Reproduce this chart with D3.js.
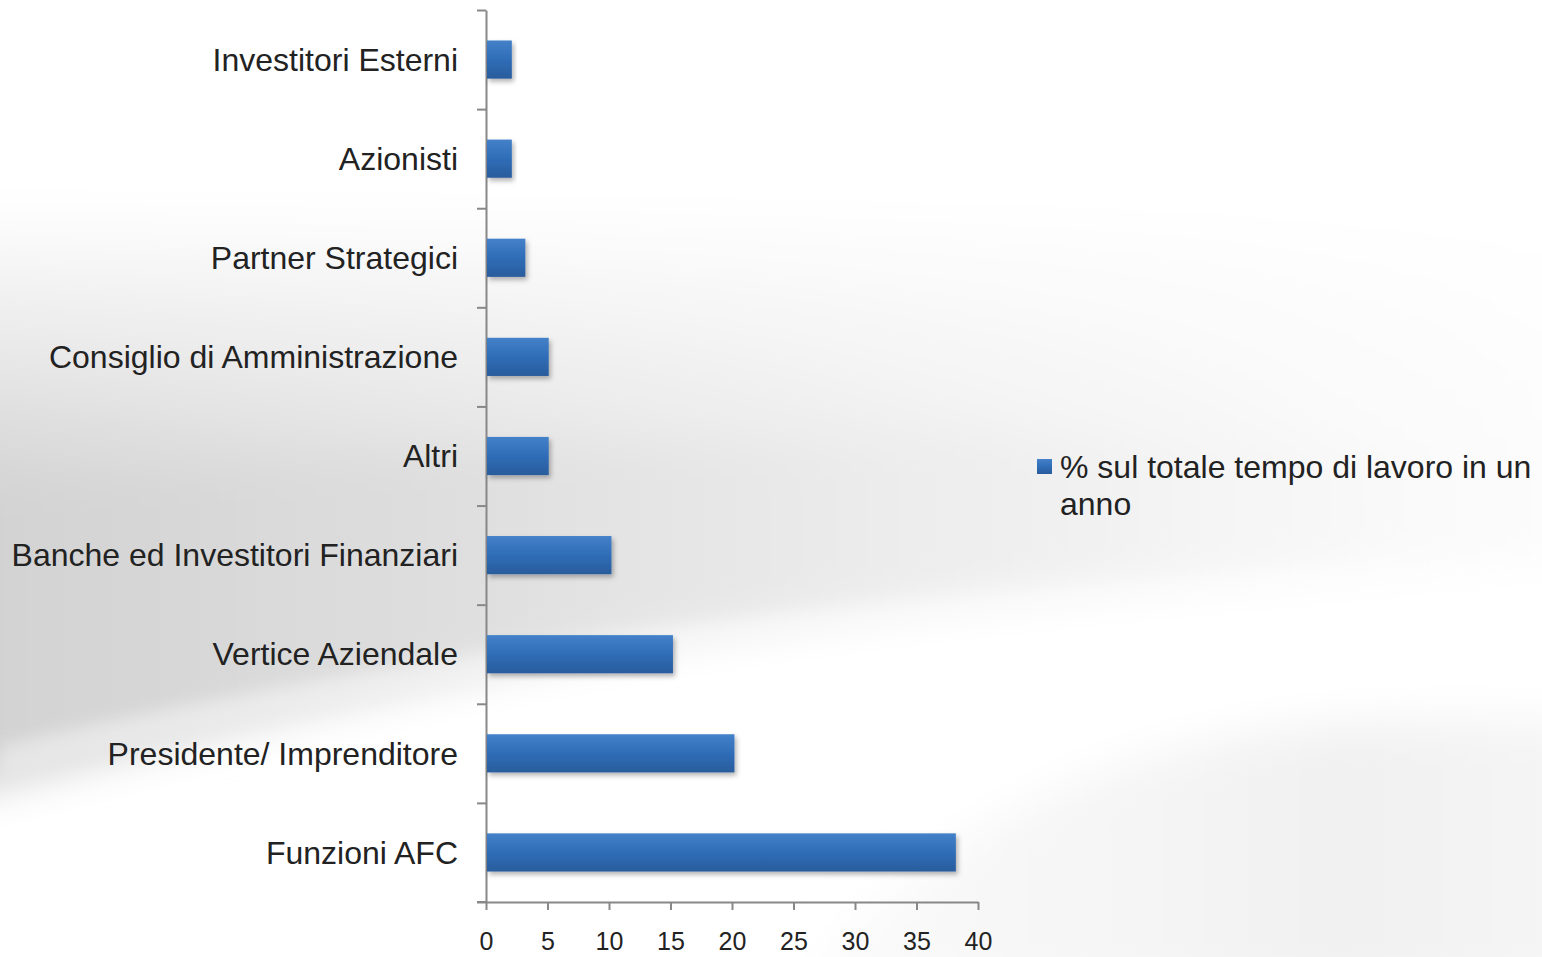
<!DOCTYPE html>
<html>
<head>
<meta charset="utf-8">
<script src="https://cdn.jsdelivr.net/npm/d3@7"></script>
<style>
  body { margin: 0; background: #fff; }
  svg { display: block; font-family: "Liberation Sans", Arial, sans-serif; }
</style>
</head>
<body>
<svg id="chart" width="1542" height="957"></svg>
<script>
// categories from bottom to top as they appear in the chart
var categories = ["Funzioni AFC", "Presidente/ Imprenditore", "Vertice Aziendale",
    "Banche ed Investitori Finanziari", "Altri", "Consiglio di Amministrazione",
    "Partner Strategici", "Azionisti", "Investitori Esterni"];
var values = [38.2, 20.2, 15.2, 10.2, 5.1, 5.1, 3.2, 2.1, 2.1];
var xTicks = [0, 5, 10, 15, 20, 25, 30, 35, 40];
var seriesName = "% sul totale tempo di lavoro in un anno";

var data = categories.map(function(c, i) { return {cat: c, value: values[i]}; });

var svg = d3.select('#chart');
var svgWidth = +svg.attr('width');
var svgHeight = +svg.attr('height');

var padding = {t: 10, l: 486};
var chartWidth = 492;
var chartHeight = 892;

var defs = svg.append('defs');

// background gradients
var bgGrad = defs.append('linearGradient').attr('id', 'bgGrad')
    .attr('x1', 0).attr('y1', 0).attr('x2', 1).attr('y2', 0);
bgGrad.append('stop').attr('offset', 0).attr('stop-color', '#d0d0d0');
bgGrad.append('stop').attr('offset', 0.3).attr('stop-color', '#dedede');
bgGrad.append('stop').attr('offset', 0.55).attr('stop-color', '#ececec');
bgGrad.append('stop').attr('offset', 0.8).attr('stop-color', '#f8f8f8');
bgGrad.append('stop').attr('offset', 1).attr('stop-color', '#ffffff');

var topFade = defs.append('linearGradient').attr('id', 'topFade')
    .attr('x1', 0).attr('y1', 0).attr('x2', 0).attr('y2', 1);
topFade.append('stop').attr('offset', 0).attr('stop-color', '#fff').attr('stop-opacity', 1);
topFade.append('stop').attr('offset', 0.5).attr('stop-color', '#fff').attr('stop-opacity', 1);
topFade.append('stop').attr('offset', 1).attr('stop-color', '#fff').attr('stop-opacity', 0);

var brGrad = defs.append('linearGradient').attr('id', 'brGrad')
    .attr('x1', 0).attr('y1', 0).attr('x2', 1).attr('y2', 0);
brGrad.append('stop').attr('offset', 0).attr('stop-color', '#fbfbfb');
brGrad.append('stop').attr('offset', 0.6).attr('stop-color', '#f1f1f1');
brGrad.append('stop').attr('offset', 1).attr('stop-color', '#f7f7f7');

var blur = defs.append('filter').attr('id', 'blur')
    .attr('x', '-20%').attr('y', '-20%').attr('width', '140%').attr('height', '140%');
blur.append('feGaussianBlur').attr('stdDeviation', 22);
var blurSmall = defs.append('filter').attr('id', 'blurSmall')
    .attr('x', '-20%').attr('y', '-20%').attr('width', '140%').attr('height', '140%');
blurSmall.append('feGaussianBlur').attr('stdDeviation', 8);

// bar gradient
var barGrad = defs.append('linearGradient').attr('id', 'barGrad')
    .attr('x1', 0).attr('y1', 0).attr('x2', 0).attr('y2', 1);
barGrad.append('stop').attr('offset', 0).attr('stop-color', '#4481c9');
barGrad.append('stop').attr('offset', 0.5).attr('stop-color', '#2f6db7');
barGrad.append('stop').attr('offset', 1).attr('stop-color', '#2a5c9c');

var shadow = defs.append('filter').attr('id', 'shadow')
    .attr('x', '-10%').attr('y', '-20%').attr('width', '130%').attr('height', '160%');
shadow.append('feDropShadow').attr('dx', 2).attr('dy', 3)
    .attr('stdDeviation', 2.5).attr('flood-color', '#000').attr('flood-opacity', 0.3);

// background
var bg = svg.append('g');
bg.append('rect').attr('width', svgWidth).attr('height', svgHeight).attr('fill', '#fff');
var soft = bg.append('g').attr('filter', 'url(#blur)');
soft.append('path')
    .attr('d', 'M-100,150 L1700,150 L1700,560 C1200,575 800,610 500,670 C300,710 100,760 -100,810 Z')
    .attr('fill', 'url(#bgGrad)');
soft.append('path')
    .attr('d', 'M-100,-100 L1700,-100 L1700,470 C1200,430 600,420 -100,500 Z')
    .attr('fill', 'url(#topFade)');
soft.append('path')
    .attr('d', 'M800,990 C950,800 1150,730 1400,720 L1700,720 L1700,990 Z')
    .attr('fill', 'url(#brGrad)');
// lighter streak just above the swoosh edge
bg.append('path')
    .attr('d', 'M0,745 C400,650 900,590 1542,560 L1542,575 C900,605 400,670 0,775 Z')
    .attr('fill', '#fff').attr('opacity', 0.35).attr('filter', 'url(#blurSmall)');

var chartG = svg.append('g')
    .attr('transform', 'translate(' + [padding.l, padding.t] + ')');

var xScale = d3.scaleLinear().domain([0, 40]).range([0, chartWidth]);
var yScale = d3.scaleBand().domain(categories.slice().reverse())
    .range([0, chartHeight]).paddingInner(0.615).paddingOuter(0.3075);
var yBound = d3.scaleLinear().domain([0, categories.length]).range([0, chartHeight]);

// x axis
var xAxis = chartG.append('g')
    .attr('transform', 'translate(0,' + chartHeight + ')')
    .call(d3.axisBottom(xScale).tickValues(xTicks).tickSize(8).tickSizeOuter(0).tickPadding(22));
xAxis.select('.domain').attr('stroke', '#888').attr('stroke-width', 2);
xAxis.selectAll('.tick line').attr('stroke', '#888').attr('stroke-width', 2);
xAxis.selectAll('.tick text').attr('font-size', 25).attr('fill', '#222')
    .attr('font-family', '"Liberation Sans", Arial, sans-serif');
xAxis.append('line').attr('x1', -9).attr('x2', 0).attr('stroke', '#888').attr('stroke-width', 2);

// y axis with ticks at the band boundaries
var yAxis = chartG.append('g')
    .call(d3.axisLeft(yBound).tickValues(d3.range(categories.length + 1))
        .tickFormat('').tickSize(9).tickSizeOuter(0));
yAxis.select('.domain').attr('stroke', '#888').attr('stroke-width', 2);
yAxis.selectAll('.tick line').attr('stroke', '#888').attr('stroke-width', 2);

// category labels
chartG.selectAll('.cat-label')
    .data(data)
    .enter()
    .append('text')
    .attr('class', 'cat-label')
    .attr('x', -28)
    .attr('y', d => yScale(d.cat) + yScale.bandwidth() / 2)
    .attr('dy', '0.35em')
    .attr('text-anchor', 'end')
    .attr('font-size', 32)
    .attr('fill', '#222')
    .text(d => d.cat);

// bars
chartG.selectAll('.bar')
    .data(data)
    .enter()
    .append('rect')
    .attr('class', 'bar')
    .attr('x', 1)
    .attr('y', d => yScale(d.cat))
    .attr('width', d => xScale(d.value) - 1)
    .attr('height', yScale.bandwidth())
    .attr('fill', 'url(#barGrad)')
    .attr('filter', 'url(#shadow)');

// legend
var legend = svg.append('g').attr('transform', 'translate(1037,459)');
legend.append('rect').attr('width', 15).attr('height', 15).attr('fill', 'url(#barGrad)');
var words = seriesName.split(' ');
legend.append('text')
    .attr('x', 23).attr('y', 8).attr('dy', '0.35em')
    .attr('font-size', 32).attr('fill', '#222')
    .text(words.slice(0, 8).join(' '));
legend.append('text')
    .attr('x', 23).attr('y', 45).attr('dy', '0.35em')
    .attr('font-size', 32).attr('fill', '#222')
    .text(words.slice(8).join(' '));
</script>
</body>
</html>
